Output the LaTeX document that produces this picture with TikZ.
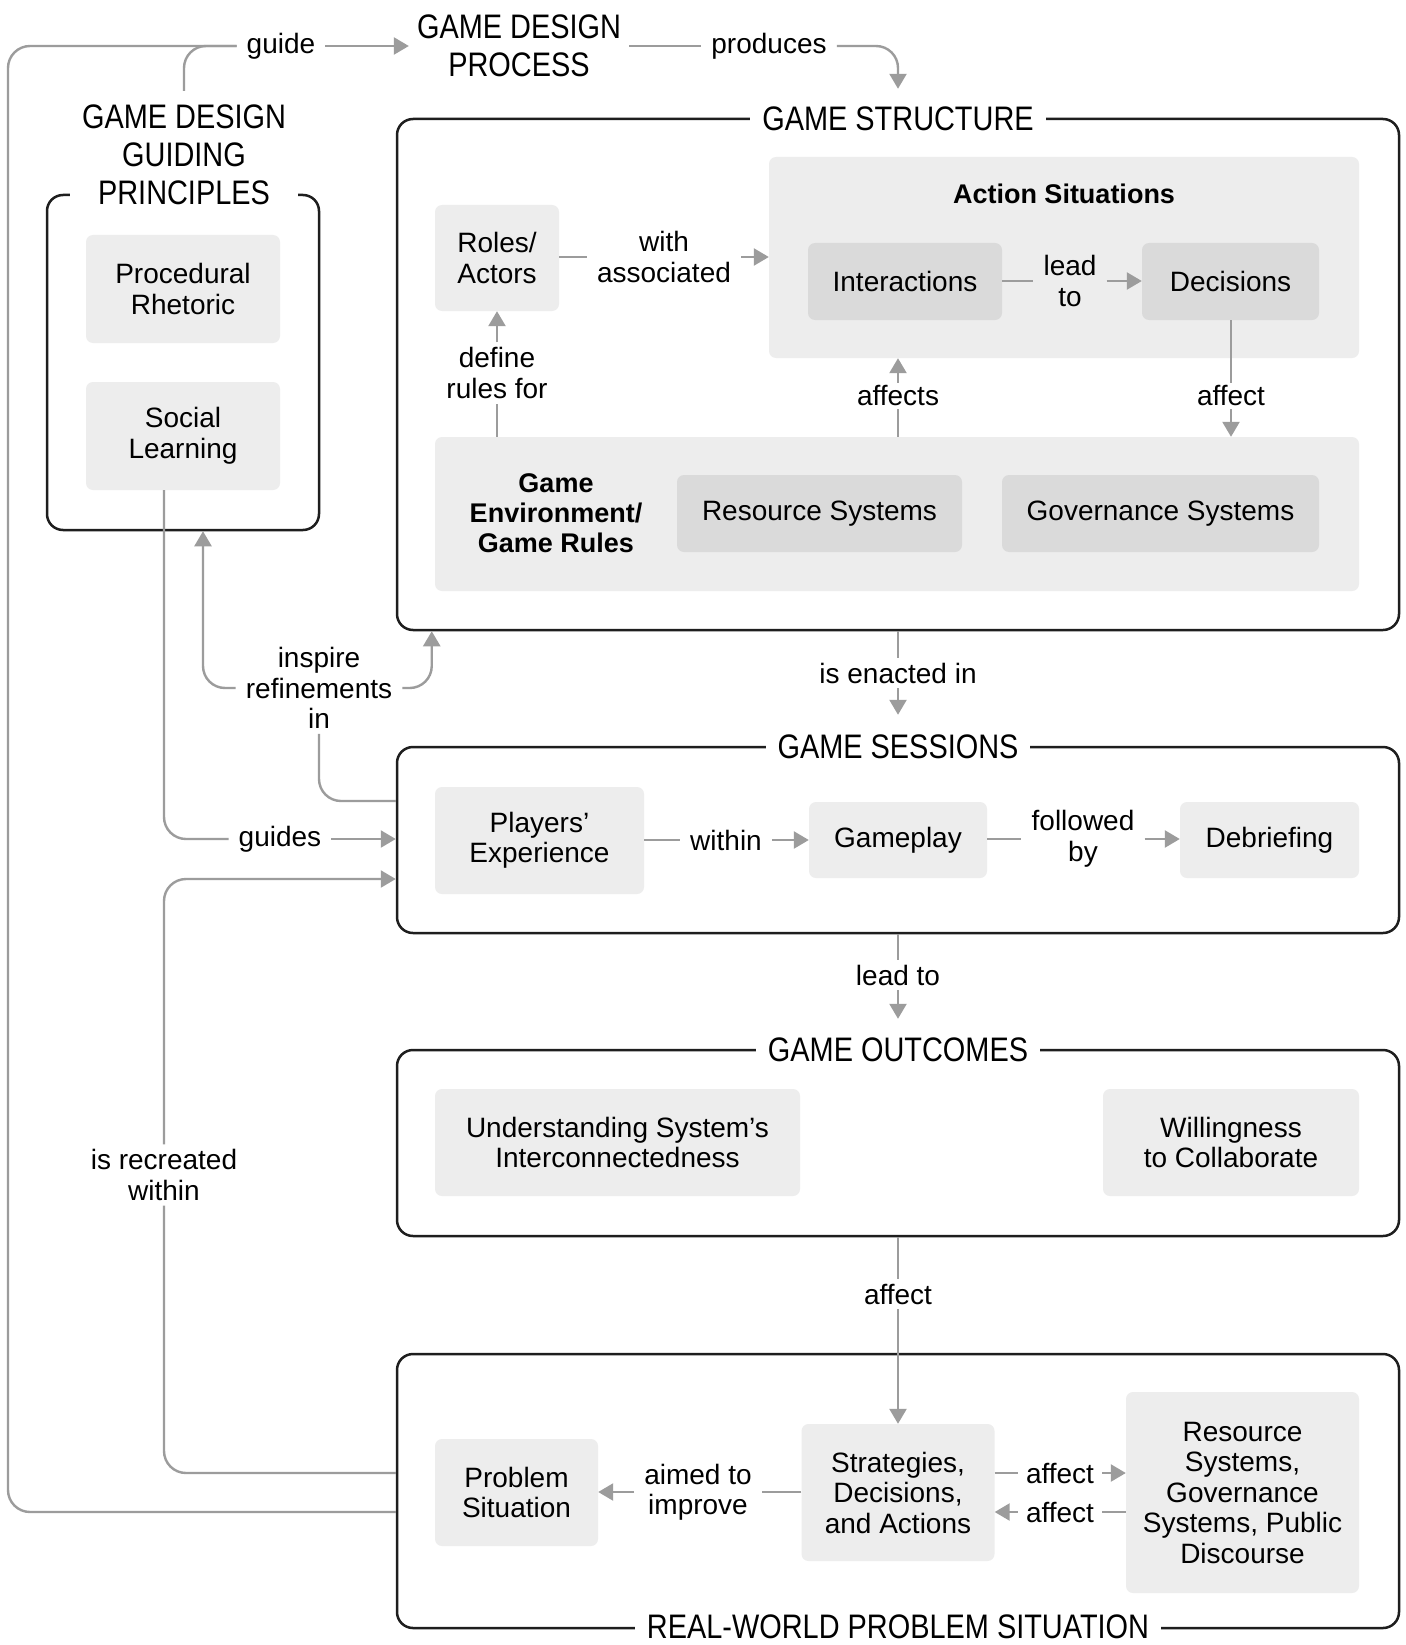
\documentclass[tikz,border=0pt]{standalone}
\usepackage{fontspec}
\setmainfont{Liberation Sans}
\newfontfamily\titlefam[FakeStretch=0.85]{Liberation Sans}
\usetikzlibrary{arrows.meta,calc}
\definecolor{boxA}{HTML}{EDEDED}
\definecolor{boxB}{HTML}{DADADA}
\definecolor{conncol}{HTML}{9C9C9C}
\definecolor{framecol}{HTML}{1E1E1E}
\newcommand\bodyfs{\fontsize{28}{30.5}\selectfont}
\newcommand\titlefs{\titlefam\fontsize{34}{38}\selectfont}
\newcommand\boldfs{\fontsize{27}{30}\selectfont\bfseries}
\tikzset{
  outerbox/.style={draw=framecol, line width=2.5pt, rounded corners=16pt, inner sep=0pt},
  ftitle/.style={fill=white, font=\titlefs, align=center, inner xsep=12pt, inner ysep=2pt},
  lightbox/.style={fill=boxA, rounded corners=7pt, font=\bodyfs, align=center, inner sep=0pt},
  darkbox/.style={lightbox, fill=boxB},
  boldlbl/.style={font=\boldfs, align=center, inner sep=2pt},
  lbl/.style={font=\bodyfs, align=center, inner xsep=10pt, inner ysep=5pt},
  cn/.style={draw=conncol, line width=2.4pt},
  arr/.style={cn, -{Triangle[length=15pt,width=17pt]}},
}
\begin{document}
\begin{tikzpicture}[x=1pt,y=-1pt]
\fill[white] (0,0) rectangle (1405,1645);
\useasboundingbox (0,0) rectangle (1405,1645);

% outer frames
\node[outerbox, minimum width=1002pt, minimum height=511pt] (structure) at (898,374.5) {};
\node[outerbox, minimum width=272pt, minimum height=335pt] (gdgp) at (183,362.5) {};
\node[outerbox, minimum width=1002pt, minimum height=186pt] (sessions) at (898,840) {};
\node[outerbox, minimum width=1002pt, minimum height=186pt] (outcomes) at (898,1143) {};
\node[outerbox, minimum width=1002pt, minimum height=274pt] (rw) at (898,1491) {};

% frame titles
\node[ftitle] (sttitle) at (898,119) {GAME STRUCTURE};
\node[ftitle] (sesstitle) at (898,747) {GAME SESSIONS};
\node[ftitle] (outtitle) at (898,1050) {GAME OUTCOMES};
\node[ftitle] (rwtitle) at (898,1627) {REAL-WORLD PROBLEM SITUATION};
\node[ftitle, inner ysep=14pt] (gdgptitle) at (184,155) {GAME DESIGN\\GUIDING\\PRINCIPLES};
\node[ftitle, fill=none, inner xsep=8pt] (gdp) at (519,46) {GAME DESIGN\\PROCESS};

% game structure contents
\node[lightbox, minimum width=124pt, minimum height=106pt] (roles) at (497,258) {Roles/\\Actors};
\node[lightbox, minimum width=590pt, minimum height=201pt] (as) at (1064,257.5) {};
\node[boldlbl] (astitle) at (1064,194) {Action Situations};
\node[darkbox, minimum width=194pt, minimum height=77pt] (inter) at (905,281.5) {Interactions};
\node[darkbox, minimum width=177pt, minimum height=77pt] (dec) at (1230.5,281.5) {Decisions};
\node[lightbox, minimum width=924pt, minimum height=154pt] (ge) at (897,514) {};
\node[boldlbl] (getext) at (556,513) {Game\\Environment/\\Game Rules};
\node[darkbox, minimum width=285pt, minimum height=77pt] (res) at (819.5,513.5) {Resource Systems};
\node[darkbox, minimum width=317pt, minimum height=77pt] (gov) at (1160.5,513.5) {Governance Systems};

% guiding principles contents
\node[lightbox, minimum width=194pt, minimum height=108pt] (proc) at (183,289) {Procedural\\Rhetoric};
\node[lightbox, minimum width=194pt, minimum height=108pt] (social) at (183,436) {Social\\Learning};

% sessions contents
\node[lightbox, minimum width=209pt, minimum height=107pt] (players) at (539.5,840.5) {Players’\\Experience};
\node[lightbox, minimum width=178pt, minimum height=76pt] (gameplay) at (898,840) {Gameplay};
\node[lightbox, minimum width=179pt, minimum height=76pt] (debrief) at (1269.5,840) {Debriefing};

% outcomes contents
\node[lightbox, minimum width=365pt, minimum height=107pt] (underst) at (617.5,1142.5) {Understanding System’s\\Interconnectedness};
\node[lightbox, minimum width=256pt, minimum height=107pt] (willing) at (1231,1142.5) {Willingness\\to Collaborate};

% real-world contents
\node[lightbox, minimum width=163pt, minimum height=107pt] (problem) at (516.5,1492.5) {Problem\\Situation};
\node[lightbox, minimum width=193pt, minimum height=137pt] (strat) at (898,1492.5) {Strategies,\\Decisions,\\and Actions};
\node[lightbox, minimum width=233pt, minimum height=201pt] (res2) at (1242.5,1492.5) {Resource\\Systems,\\Governance\\Systems, Public\\Discourse};

% labels
\node[lbl] (guide) at (281,46) {guide};
\node[lbl] (produces) at (769,46) {produces};
\node[lbl] (with) at (664,257) {with\\associated};
\node[lbl] (leadto1) at (1070,281) {lead\\to};
\node[lbl] (define) at (497,373) {define\\rules for};
\node[lbl, inner ysep=3pt] (affects) at (898,396) {affects};
\node[lbl, inner ysep=3pt] (affge) at (1231,396) {affect};
\node[lbl] (enacted) at (898,673) {is enacted in};
\node[lbl] (within) at (726,840) {within};
\node[lbl] (followed) at (1083,839) {followed\\by};
\node[lbl] (leadto2) at (898,975) {lead to};
\node[lbl] (affout) at (898,1294) {affect};
\node[lbl] (aimed) at (698,1492) {aimed to\\improve};
\node[lbl, inner ysep=2pt, inner xsep=8pt] (affA) at (1060,1473) {affect};
\node[lbl, inner ysep=2pt, inner xsep=8pt] (affB) at (1060,1512) {affect};
\node[lbl] (guides) at (280,839) {guides};
\node[lbl] (inspire) at (319,688) {inspire\\refinements\\in};
\node[lbl] (recreated) at (164,1175) {is recreated\\within};
\coordinate (loopL) at (8,46);

% top connectors
\draw[cn, rounded corners=22pt] (rw.west |- affB) -| (loopL) -- (guide.west);
\draw[cn, rounded corners=22pt] (gdgptitle.north) |- (guide.west);
\draw[arr] (guide.east) -- (gdp.west);
\draw[cn] (gdp.east) -- (produces.west);
\draw[arr, rounded corners=22pt, shorten >=16pt] (produces.east) -| (sttitle.north);

% vertical chain
\draw[cn] (structure.south) -- (enacted.north);
\draw[arr, shorten >=18pt] (enacted.south) -- (sesstitle.north);
\draw[cn] (sessions.south) -- (leadto2.north);
\draw[arr, shorten >=17pt] (leadto2.south) -- (outtitle.north);
\draw[cn] (outcomes.south) -- (affout.north);
\draw[arr] (affout.south) -- (strat.north);

% structure internals
\draw[cn] (roles.east |- with) -- (with.west);
\draw[arr] (with.east) -- (as.west |- with);
\draw[cn] (inter.east |- leadto1) -- (leadto1.west);
\draw[arr] (leadto1.east) -- (dec.west |- leadto1);
\draw[cn] (ge.north -| define) -- (define.south);
\draw[arr] (define.north) -- (roles.south);
\draw[cn] (ge.north -| affects) -- (affects.south);
\draw[arr] (affects.north) -- (as.south -| affects);
\draw[cn] (dec.south -| affge) -- (affge.north);
\draw[arr] (affge.south) -- (ge.north -| affge);

% sessions internals
\draw[cn] (players.east |- within) -- (within.west);
\draw[arr] (within.east) -- (gameplay.west);
\draw[cn] (gameplay.east |- followed) -- (followed.west);
\draw[arr] (followed.east) -- (debrief.west |- followed);

% real-world internals
\draw[cn] (strat.west |- aimed) -- (aimed.east);
\draw[arr] (aimed.west) -- (problem.east |- aimed);
\draw[cn] (strat.east |- affA) -- (affA.west);
\draw[arr] (affA.east) -- (res2.west |- affA);
\draw[cn] (res2.west |- affB) -- (affB.east);
\draw[arr] (affB.west) -- (strat.east |- affB);

% left side loops
\draw[cn, rounded corners=22pt] (social.south -| recreated) |- (guides.west);
\draw[arr] (guides.east) -- (sessions.west |- guides);
\draw[cn, rounded corners=22pt] (rw.west |- affA) -| (recreated.south);
\draw[arr, rounded corners=22pt] (recreated.north) |- ([yshift=-39pt]sessions.west);
\draw[cn, rounded corners=22pt] ([yshift=39pt]sessions.west) -| (inspire.south);
\draw[arr, rounded corners=22pt] (inspire.west) -| ([xshift=20pt]gdgp.south);
\draw[arr, rounded corners=22pt] (inspire.east) -| ([xshift=36pt]structure.south west);
\end{tikzpicture}
\end{document}
